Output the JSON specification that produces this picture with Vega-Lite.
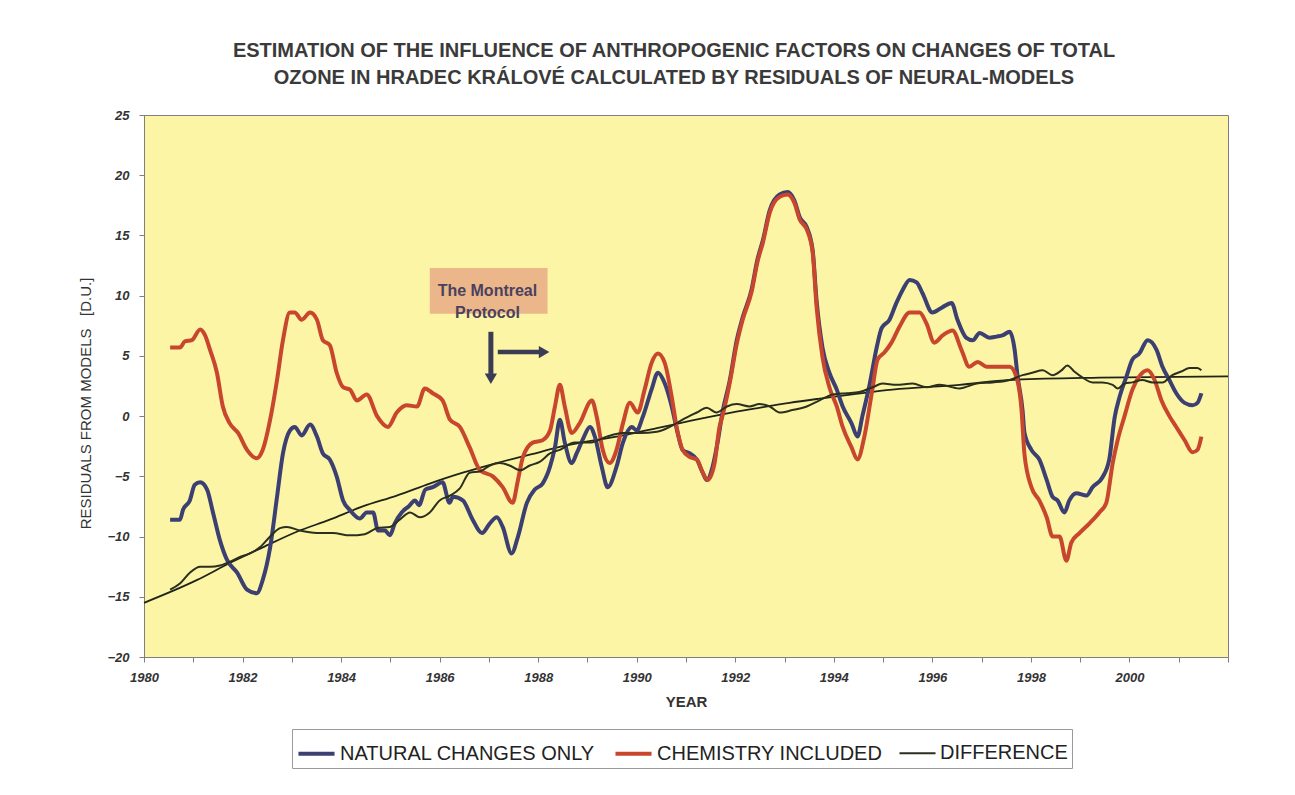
{
  "$schema": "https://vega.github.io/schema/vega-lite/v6.json",
  "width": 1084,
  "height": 542,
  "autosize": "none",
  "padding": {"left": 144, "top": 115, "right": 67, "bottom": 138},
  "background": "#ffffff",
  "config": {
    "font": "Liberation Sans",
    "view": {"fill": "#fcf5a6", "stroke": "#7f7f7f", "strokeWidth": 1}
  },
  "title": {
    "text": ["ESTIMATION OF THE INFLUENCE OF ANTHROPOGENIC FACTORS ON CHANGES OF TOTAL", "OZONE IN HRADEC KRÁLOVÉ CALCULATED BY RESIDUALS OF NEURAL-MODELS"],
    "anchor": "middle",
    "dx": -12,
    "offset": 21,
    "fontSize": 20,
    "fontWeight": "bold",
    "lineHeight": 27,
    "color": "#3a3a3a"
  },
  "datasets": {
    "residuals": [
      {"series": "NATURAL CHANGES ONLY", "year": 1980.53, "value": -8.6},
      {"series": "NATURAL CHANGES ONLY", "year": 1980.73, "value": -8.6},
      {"series": "NATURAL CHANGES ONLY", "year": 1980.79, "value": -7.8},
      {"series": "NATURAL CHANGES ONLY", "year": 1980.93, "value": -7.0},
      {"series": "NATURAL CHANGES ONLY", "year": 1981.03, "value": -5.7},
      {"series": "NATURAL CHANGES ONLY", "year": 1981.14, "value": -5.5},
      {"series": "NATURAL CHANGES ONLY", "year": 1981.28, "value": -6.1},
      {"series": "NATURAL CHANGES ONLY", "year": 1981.40, "value": -8.0},
      {"series": "NATURAL CHANGES ONLY", "year": 1981.54, "value": -10.3},
      {"series": "NATURAL CHANGES ONLY", "year": 1981.68, "value": -11.9},
      {"series": "NATURAL CHANGES ONLY", "year": 1981.89, "value": -13.0},
      {"series": "NATURAL CHANGES ONLY", "year": 1982.09, "value": -14.4},
      {"series": "NATURAL CHANGES ONLY", "year": 1982.29, "value": -14.7},
      {"series": "NATURAL CHANGES ONLY", "year": 1982.41, "value": -13.6},
      {"series": "NATURAL CHANGES ONLY", "year": 1982.56, "value": -10.9},
      {"series": "NATURAL CHANGES ONLY", "year": 1982.70, "value": -6.7},
      {"series": "NATURAL CHANGES ONLY", "year": 1982.82, "value": -3.1},
      {"series": "NATURAL CHANGES ONLY", "year": 1982.96, "value": -1.2},
      {"series": "NATURAL CHANGES ONLY", "year": 1983.06, "value": -0.9},
      {"series": "NATURAL CHANGES ONLY", "year": 1983.20, "value": -1.6},
      {"series": "NATURAL CHANGES ONLY", "year": 1983.37, "value": -0.7},
      {"series": "NATURAL CHANGES ONLY", "year": 1983.51, "value": -1.7},
      {"series": "NATURAL CHANGES ONLY", "year": 1983.63, "value": -3.1},
      {"series": "NATURAL CHANGES ONLY", "year": 1983.77, "value": -3.6},
      {"series": "NATURAL CHANGES ONLY", "year": 1983.91, "value": -5.0},
      {"series": "NATURAL CHANGES ONLY", "year": 1984.04, "value": -7.0},
      {"series": "NATURAL CHANGES ONLY", "year": 1984.18, "value": -7.8},
      {"series": "NATURAL CHANGES ONLY", "year": 1984.38, "value": -8.5},
      {"series": "NATURAL CHANGES ONLY", "year": 1984.52, "value": -8.0},
      {"series": "NATURAL CHANGES ONLY", "year": 1984.65, "value": -8.0},
      {"series": "NATURAL CHANGES ONLY", "year": 1984.75, "value": -9.5},
      {"series": "NATURAL CHANGES ONLY", "year": 1984.89, "value": -9.5},
      {"series": "NATURAL CHANGES ONLY", "year": 1984.99, "value": -9.9},
      {"series": "NATURAL CHANGES ONLY", "year": 1985.09, "value": -8.9},
      {"series": "NATURAL CHANGES ONLY", "year": 1985.23, "value": -8.0},
      {"series": "NATURAL CHANGES ONLY", "year": 1985.37, "value": -7.5},
      {"series": "NATURAL CHANGES ONLY", "year": 1985.50, "value": -7.0},
      {"series": "NATURAL CHANGES ONLY", "year": 1985.58, "value": -7.4},
      {"series": "NATURAL CHANGES ONLY", "year": 1985.71, "value": -6.1},
      {"series": "NATURAL CHANGES ONLY", "year": 1985.86, "value": -5.9},
      {"series": "NATURAL CHANGES ONLY", "year": 1986.06, "value": -5.5},
      {"series": "NATURAL CHANGES ONLY", "year": 1986.20, "value": -7.2},
      {"series": "NATURAL CHANGES ONLY", "year": 1986.27, "value": -6.7},
      {"series": "NATURAL CHANGES ONLY", "year": 1986.47, "value": -7.0},
      {"series": "NATURAL CHANGES ONLY", "year": 1986.67, "value": -8.6},
      {"series": "NATURAL CHANGES ONLY", "year": 1986.86, "value": -9.7},
      {"series": "NATURAL CHANGES ONLY", "year": 1987.02, "value": -8.9},
      {"series": "NATURAL CHANGES ONLY", "year": 1987.16, "value": -8.4},
      {"series": "NATURAL CHANGES ONLY", "year": 1987.28, "value": -9.2},
      {"series": "NATURAL CHANGES ONLY", "year": 1987.46, "value": -11.4},
      {"series": "NATURAL CHANGES ONLY", "year": 1987.59, "value": -10.0},
      {"series": "NATURAL CHANGES ONLY", "year": 1987.77, "value": -7.2},
      {"series": "NATURAL CHANGES ONLY", "year": 1987.93, "value": -6.1},
      {"series": "NATURAL CHANGES ONLY", "year": 1988.09, "value": -5.6},
      {"series": "NATURAL CHANGES ONLY", "year": 1988.24, "value": -4.2},
      {"series": "NATURAL CHANGES ONLY", "year": 1988.34, "value": -2.6},
      {"series": "NATURAL CHANGES ONLY", "year": 1988.44, "value": -0.3},
      {"series": "NATURAL CHANGES ONLY", "year": 1988.54, "value": -2.2},
      {"series": "NATURAL CHANGES ONLY", "year": 1988.68, "value": -3.9},
      {"series": "NATURAL CHANGES ONLY", "year": 1988.78, "value": -3.1},
      {"series": "NATURAL CHANGES ONLY", "year": 1988.92, "value": -1.8},
      {"series": "NATURAL CHANGES ONLY", "year": 1989.05, "value": -0.9},
      {"series": "NATURAL CHANGES ONLY", "year": 1989.15, "value": -1.7},
      {"series": "NATURAL CHANGES ONLY", "year": 1989.29, "value": -4.2},
      {"series": "NATURAL CHANGES ONLY", "year": 1989.41, "value": -5.9},
      {"series": "NATURAL CHANGES ONLY", "year": 1989.59, "value": -4.2},
      {"series": "NATURAL CHANGES ONLY", "year": 1989.72, "value": -2.2},
      {"series": "NATURAL CHANGES ONLY", "year": 1989.90, "value": -0.9},
      {"series": "NATURAL CHANGES ONLY", "year": 1990.00, "value": -1.2},
      {"series": "NATURAL CHANGES ONLY", "year": 1990.12, "value": -0.1},
      {"series": "NATURAL CHANGES ONLY", "year": 1990.30, "value": 2.2},
      {"series": "NATURAL CHANGES ONLY", "year": 1990.43, "value": 3.6},
      {"series": "NATURAL CHANGES ONLY", "year": 1990.57, "value": 2.7},
      {"series": "NATURAL CHANGES ONLY", "year": 1990.71, "value": 0.8},
      {"series": "NATURAL CHANGES ONLY", "year": 1990.83, "value": -1.4},
      {"series": "NATURAL CHANGES ONLY", "year": 1990.93, "value": -2.8},
      {"series": "NATURAL CHANGES ONLY", "year": 1991.08, "value": -3.1},
      {"series": "NATURAL CHANGES ONLY", "year": 1991.22, "value": -3.6},
      {"series": "NATURAL CHANGES ONLY", "year": 1991.34, "value": -4.7},
      {"series": "NATURAL CHANGES ONLY", "year": 1991.42, "value": -5.3},
      {"series": "NATURAL CHANGES ONLY", "year": 1991.54, "value": -4.2},
      {"series": "NATURAL CHANGES ONLY", "year": 1991.64, "value": -2.2},
      {"series": "NATURAL CHANGES ONLY", "year": 1991.74, "value": 0.3},
      {"series": "NATURAL CHANGES ONLY", "year": 1991.89, "value": 3.0},
      {"series": "NATURAL CHANGES ONLY", "year": 1992.03, "value": 6.3},
      {"series": "NATURAL CHANGES ONLY", "year": 1992.15, "value": 8.2},
      {"series": "NATURAL CHANGES ONLY", "year": 1992.33, "value": 10.5},
      {"series": "NATURAL CHANGES ONLY", "year": 1992.45, "value": 13.0},
      {"series": "NATURAL CHANGES ONLY", "year": 1992.56, "value": 14.6},
      {"series": "NATURAL CHANGES ONLY", "year": 1992.70, "value": 17.1},
      {"series": "NATURAL CHANGES ONLY", "year": 1992.90, "value": 18.4},
      {"series": "NATURAL CHANGES ONLY", "year": 1993.06, "value": 18.6},
      {"series": "NATURAL CHANGES ONLY", "year": 1993.20, "value": 17.9},
      {"series": "NATURAL CHANGES ONLY", "year": 1993.31, "value": 16.5},
      {"series": "NATURAL CHANGES ONLY", "year": 1993.45, "value": 15.7},
      {"series": "NATURAL CHANGES ONLY", "year": 1993.57, "value": 13.8},
      {"series": "NATURAL CHANGES ONLY", "year": 1993.65, "value": 9.6},
      {"series": "NATURAL CHANGES ONLY", "year": 1993.77, "value": 5.7},
      {"series": "NATURAL CHANGES ONLY", "year": 1993.91, "value": 3.6},
      {"series": "NATURAL CHANGES ONLY", "year": 1994.06, "value": 2.2},
      {"series": "NATURAL CHANGES ONLY", "year": 1994.18, "value": 0.8},
      {"series": "NATURAL CHANGES ONLY", "year": 1994.36, "value": -0.6},
      {"series": "NATURAL CHANGES ONLY", "year": 1994.48, "value": -1.7},
      {"series": "NATURAL CHANGES ONLY", "year": 1994.58, "value": 0.0},
      {"series": "NATURAL CHANGES ONLY", "year": 1994.73, "value": 2.7},
      {"series": "NATURAL CHANGES ONLY", "year": 1994.87, "value": 5.7},
      {"series": "NATURAL CHANGES ONLY", "year": 1994.97, "value": 7.3},
      {"series": "NATURAL CHANGES ONLY", "year": 1995.13, "value": 8.0},
      {"series": "NATURAL CHANGES ONLY", "year": 1995.27, "value": 9.4},
      {"series": "NATURAL CHANGES ONLY", "year": 1995.40, "value": 10.5},
      {"series": "NATURAL CHANGES ONLY", "year": 1995.54, "value": 11.3},
      {"series": "NATURAL CHANGES ONLY", "year": 1995.68, "value": 11.1},
      {"series": "NATURAL CHANGES ONLY", "year": 1995.80, "value": 10.2},
      {"series": "NATURAL CHANGES ONLY", "year": 1996.00, "value": 8.6},
      {"series": "NATURAL CHANGES ONLY", "year": 1996.19, "value": 9.0},
      {"series": "NATURAL CHANGES ONLY", "year": 1996.39, "value": 9.4},
      {"series": "NATURAL CHANGES ONLY", "year": 1996.51, "value": 8.0},
      {"series": "NATURAL CHANGES ONLY", "year": 1996.69, "value": 6.5},
      {"series": "NATURAL CHANGES ONLY", "year": 1996.82, "value": 6.3},
      {"series": "NATURAL CHANGES ONLY", "year": 1996.96, "value": 6.9},
      {"series": "NATURAL CHANGES ONLY", "year": 1997.16, "value": 6.5},
      {"series": "NATURAL CHANGES ONLY", "year": 1997.30, "value": 6.6},
      {"series": "NATURAL CHANGES ONLY", "year": 1997.42, "value": 6.7},
      {"series": "NATURAL CHANGES ONLY", "year": 1997.57, "value": 7.0},
      {"series": "NATURAL CHANGES ONLY", "year": 1997.67, "value": 5.5},
      {"series": "NATURAL CHANGES ONLY", "year": 1997.73, "value": 3.3},
      {"series": "NATURAL CHANGES ONLY", "year": 1997.83, "value": 0.5},
      {"series": "NATURAL CHANGES ONLY", "year": 1997.87, "value": -1.4},
      {"series": "NATURAL CHANGES ONLY", "year": 1998.01, "value": -2.8},
      {"series": "NATURAL CHANGES ONLY", "year": 1998.17, "value": -3.6},
      {"series": "NATURAL CHANGES ONLY", "year": 1998.32, "value": -5.3},
      {"series": "NATURAL CHANGES ONLY", "year": 1998.44, "value": -6.7},
      {"series": "NATURAL CHANGES ONLY", "year": 1998.54, "value": -7.0},
      {"series": "NATURAL CHANGES ONLY", "year": 1998.68, "value": -8.0},
      {"series": "NATURAL CHANGES ONLY", "year": 1998.78, "value": -7.0},
      {"series": "NATURAL CHANGES ONLY", "year": 1998.92, "value": -6.4},
      {"series": "NATURAL CHANGES ONLY", "year": 1999.13, "value": -6.6},
      {"series": "NATURAL CHANGES ONLY", "year": 1999.25, "value": -5.9},
      {"series": "NATURAL CHANGES ONLY", "year": 1999.45, "value": -5.1},
      {"series": "NATURAL CHANGES ONLY", "year": 1999.59, "value": -3.6},
      {"series": "NATURAL CHANGES ONLY", "year": 1999.70, "value": -0.1},
      {"series": "NATURAL CHANGES ONLY", "year": 1999.80, "value": 1.6},
      {"series": "NATURAL CHANGES ONLY", "year": 1999.94, "value": 3.3},
      {"series": "NATURAL CHANGES ONLY", "year": 2000.06, "value": 4.7},
      {"series": "NATURAL CHANGES ONLY", "year": 2000.20, "value": 5.2},
      {"series": "NATURAL CHANGES ONLY", "year": 2000.37, "value": 6.3},
      {"series": "NATURAL CHANGES ONLY", "year": 2000.55, "value": 5.5},
      {"series": "NATURAL CHANGES ONLY", "year": 2000.67, "value": 4.1},
      {"series": "NATURAL CHANGES ONLY", "year": 2000.81, "value": 3.0},
      {"series": "NATURAL CHANGES ONLY", "year": 2000.95, "value": 1.9},
      {"series": "NATURAL CHANGES ONLY", "year": 2001.12, "value": 1.1},
      {"series": "NATURAL CHANGES ONLY", "year": 2001.28, "value": 0.9},
      {"series": "NATURAL CHANGES ONLY", "year": 2001.38, "value": 1.1},
      {"series": "NATURAL CHANGES ONLY", "year": 2001.46, "value": 1.9},

      {"series": "CHEMISTRY INCLUDED", "year": 1980.53, "value": 5.7},
      {"series": "CHEMISTRY INCLUDED", "year": 1980.73, "value": 5.7},
      {"series": "CHEMISTRY INCLUDED", "year": 1980.83, "value": 6.2},
      {"series": "CHEMISTRY INCLUDED", "year": 1980.97, "value": 6.3},
      {"series": "CHEMISTRY INCLUDED", "year": 1981.14, "value": 7.2},
      {"series": "CHEMISTRY INCLUDED", "year": 1981.24, "value": 6.7},
      {"series": "CHEMISTRY INCLUDED", "year": 1981.34, "value": 5.5},
      {"series": "CHEMISTRY INCLUDED", "year": 1981.48, "value": 3.6},
      {"series": "CHEMISTRY INCLUDED", "year": 1981.60, "value": 0.8},
      {"series": "CHEMISTRY INCLUDED", "year": 1981.74, "value": -0.6},
      {"series": "CHEMISTRY INCLUDED", "year": 1981.91, "value": -1.4},
      {"series": "CHEMISTRY INCLUDED", "year": 1982.09, "value": -2.8},
      {"series": "CHEMISTRY INCLUDED", "year": 1982.29, "value": -3.5},
      {"series": "CHEMISTRY INCLUDED", "year": 1982.41, "value": -2.8},
      {"series": "CHEMISTRY INCLUDED", "year": 1982.56, "value": -0.3},
      {"series": "CHEMISTRY INCLUDED", "year": 1982.70, "value": 3.0},
      {"series": "CHEMISTRY INCLUDED", "year": 1982.82, "value": 6.3},
      {"series": "CHEMISTRY INCLUDED", "year": 1982.96, "value": 8.6},
      {"series": "CHEMISTRY INCLUDED", "year": 1983.06, "value": 8.6},
      {"series": "CHEMISTRY INCLUDED", "year": 1983.20, "value": 8.0},
      {"series": "CHEMISTRY INCLUDED", "year": 1983.37, "value": 8.6},
      {"series": "CHEMISTRY INCLUDED", "year": 1983.51, "value": 8.0},
      {"series": "CHEMISTRY INCLUDED", "year": 1983.63, "value": 6.3},
      {"series": "CHEMISTRY INCLUDED", "year": 1983.77, "value": 5.9},
      {"series": "CHEMISTRY INCLUDED", "year": 1983.91, "value": 3.6},
      {"series": "CHEMISTRY INCLUDED", "year": 1984.04, "value": 2.4},
      {"series": "CHEMISTRY INCLUDED", "year": 1984.18, "value": 2.2},
      {"series": "CHEMISTRY INCLUDED", "year": 1984.32, "value": 1.3},
      {"series": "CHEMISTRY INCLUDED", "year": 1984.52, "value": 1.8},
      {"series": "CHEMISTRY INCLUDED", "year": 1984.73, "value": 0.0},
      {"series": "CHEMISTRY INCLUDED", "year": 1984.95, "value": -0.9},
      {"series": "CHEMISTRY INCLUDED", "year": 1985.13, "value": 0.3},
      {"series": "CHEMISTRY INCLUDED", "year": 1985.33, "value": 0.9},
      {"series": "CHEMISTRY INCLUDED", "year": 1985.54, "value": 0.8},
      {"series": "CHEMISTRY INCLUDED", "year": 1985.70, "value": 2.3},
      {"series": "CHEMISTRY INCLUDED", "year": 1985.86, "value": 1.9},
      {"series": "CHEMISTRY INCLUDED", "year": 1986.06, "value": 1.3},
      {"series": "CHEMISTRY INCLUDED", "year": 1986.21, "value": -0.3},
      {"series": "CHEMISTRY INCLUDED", "year": 1986.41, "value": -0.9},
      {"series": "CHEMISTRY INCLUDED", "year": 1986.61, "value": -2.6},
      {"series": "CHEMISTRY INCLUDED", "year": 1986.82, "value": -4.5},
      {"series": "CHEMISTRY INCLUDED", "year": 1987.08, "value": -5.0},
      {"series": "CHEMISTRY INCLUDED", "year": 1987.28, "value": -5.9},
      {"series": "CHEMISTRY INCLUDED", "year": 1987.48, "value": -7.2},
      {"series": "CHEMISTRY INCLUDED", "year": 1987.59, "value": -5.3},
      {"series": "CHEMISTRY INCLUDED", "year": 1987.69, "value": -3.4},
      {"series": "CHEMISTRY INCLUDED", "year": 1987.89, "value": -2.2},
      {"series": "CHEMISTRY INCLUDED", "year": 1988.09, "value": -2.0},
      {"series": "CHEMISTRY INCLUDED", "year": 1988.24, "value": -1.2},
      {"series": "CHEMISTRY INCLUDED", "year": 1988.34, "value": 0.8},
      {"series": "CHEMISTRY INCLUDED", "year": 1988.44, "value": 2.6},
      {"series": "CHEMISTRY INCLUDED", "year": 1988.54, "value": 0.8},
      {"series": "CHEMISTRY INCLUDED", "year": 1988.68, "value": -1.4},
      {"series": "CHEMISTRY INCLUDED", "year": 1988.84, "value": -0.6},
      {"series": "CHEMISTRY INCLUDED", "year": 1989.09, "value": 1.3},
      {"series": "CHEMISTRY INCLUDED", "year": 1989.19, "value": -0.1},
      {"series": "CHEMISTRY INCLUDED", "year": 1989.31, "value": -2.8},
      {"series": "CHEMISTRY INCLUDED", "year": 1989.45, "value": -3.9},
      {"series": "CHEMISTRY INCLUDED", "year": 1989.59, "value": -2.8},
      {"series": "CHEMISTRY INCLUDED", "year": 1989.72, "value": -0.6},
      {"series": "CHEMISTRY INCLUDED", "year": 1989.86, "value": 1.1},
      {"series": "CHEMISTRY INCLUDED", "year": 1990.02, "value": 0.3},
      {"series": "CHEMISTRY INCLUDED", "year": 1990.16, "value": 2.2},
      {"series": "CHEMISTRY INCLUDED", "year": 1990.30, "value": 4.4},
      {"series": "CHEMISTRY INCLUDED", "year": 1990.43, "value": 5.2},
      {"series": "CHEMISTRY INCLUDED", "year": 1990.57, "value": 4.4},
      {"series": "CHEMISTRY INCLUDED", "year": 1990.71, "value": 1.6},
      {"series": "CHEMISTRY INCLUDED", "year": 1990.81, "value": -0.9},
      {"series": "CHEMISTRY INCLUDED", "year": 1990.93, "value": -2.8},
      {"series": "CHEMISTRY INCLUDED", "year": 1991.08, "value": -3.4},
      {"series": "CHEMISTRY INCLUDED", "year": 1991.22, "value": -3.6},
      {"series": "CHEMISTRY INCLUDED", "year": 1991.34, "value": -4.7},
      {"series": "CHEMISTRY INCLUDED", "year": 1991.44, "value": -5.3},
      {"series": "CHEMISTRY INCLUDED", "year": 1991.58, "value": -3.9},
      {"series": "CHEMISTRY INCLUDED", "year": 1991.68, "value": -0.9},
      {"series": "CHEMISTRY INCLUDED", "year": 1991.74, "value": 0.0},
      {"series": "CHEMISTRY INCLUDED", "year": 1991.89, "value": 2.8},
      {"series": "CHEMISTRY INCLUDED", "year": 1992.03, "value": 6.0},
      {"series": "CHEMISTRY INCLUDED", "year": 1992.15, "value": 8.0},
      {"series": "CHEMISTRY INCLUDED", "year": 1992.33, "value": 10.3},
      {"series": "CHEMISTRY INCLUDED", "year": 1992.45, "value": 12.8},
      {"series": "CHEMISTRY INCLUDED", "year": 1992.56, "value": 14.4},
      {"series": "CHEMISTRY INCLUDED", "year": 1992.70, "value": 16.9},
      {"series": "CHEMISTRY INCLUDED", "year": 1992.90, "value": 18.2},
      {"series": "CHEMISTRY INCLUDED", "year": 1993.06, "value": 18.4},
      {"series": "CHEMISTRY INCLUDED", "year": 1993.20, "value": 17.7},
      {"series": "CHEMISTRY INCLUDED", "year": 1993.31, "value": 16.3},
      {"series": "CHEMISTRY INCLUDED", "year": 1993.45, "value": 15.5},
      {"series": "CHEMISTRY INCLUDED", "year": 1993.57, "value": 13.6},
      {"series": "CHEMISTRY INCLUDED", "year": 1993.65, "value": 9.1},
      {"series": "CHEMISTRY INCLUDED", "year": 1993.77, "value": 4.9},
      {"series": "CHEMISTRY INCLUDED", "year": 1993.91, "value": 2.4},
      {"series": "CHEMISTRY INCLUDED", "year": 1994.06, "value": 0.8},
      {"series": "CHEMISTRY INCLUDED", "year": 1994.18, "value": -0.9},
      {"series": "CHEMISTRY INCLUDED", "year": 1994.36, "value": -2.6},
      {"series": "CHEMISTRY INCLUDED", "year": 1994.48, "value": -3.6},
      {"series": "CHEMISTRY INCLUDED", "year": 1994.62, "value": -1.7},
      {"series": "CHEMISTRY INCLUDED", "year": 1994.77, "value": 1.9},
      {"series": "CHEMISTRY INCLUDED", "year": 1994.89, "value": 4.7},
      {"series": "CHEMISTRY INCLUDED", "year": 1995.03, "value": 5.3},
      {"series": "CHEMISTRY INCLUDED", "year": 1995.17, "value": 6.1},
      {"series": "CHEMISTRY INCLUDED", "year": 1995.33, "value": 7.4},
      {"series": "CHEMISTRY INCLUDED", "year": 1995.54, "value": 8.6},
      {"series": "CHEMISTRY INCLUDED", "year": 1995.74, "value": 8.6},
      {"series": "CHEMISTRY INCLUDED", "year": 1995.88, "value": 7.7},
      {"series": "CHEMISTRY INCLUDED", "year": 1996.04, "value": 6.1},
      {"series": "CHEMISTRY INCLUDED", "year": 1996.21, "value": 6.7},
      {"series": "CHEMISTRY INCLUDED", "year": 1996.41, "value": 7.1},
      {"series": "CHEMISTRY INCLUDED", "year": 1996.59, "value": 5.5},
      {"series": "CHEMISTRY INCLUDED", "year": 1996.75, "value": 4.1},
      {"series": "CHEMISTRY INCLUDED", "year": 1996.92, "value": 4.5},
      {"series": "CHEMISTRY INCLUDED", "year": 1997.10, "value": 4.1},
      {"series": "CHEMISTRY INCLUDED", "year": 1997.30, "value": 4.1},
      {"series": "CHEMISTRY INCLUDED", "year": 1997.57, "value": 4.1},
      {"series": "CHEMISTRY INCLUDED", "year": 1997.71, "value": 3.2},
      {"series": "CHEMISTRY INCLUDED", "year": 1997.81, "value": 0.5},
      {"series": "CHEMISTRY INCLUDED", "year": 1997.87, "value": -3.2},
      {"series": "CHEMISTRY INCLUDED", "year": 1998.01, "value": -5.9},
      {"series": "CHEMISTRY INCLUDED", "year": 1998.17, "value": -7.0},
      {"series": "CHEMISTRY INCLUDED", "year": 1998.32, "value": -8.4},
      {"series": "CHEMISTRY INCLUDED", "year": 1998.44, "value": -10.0},
      {"series": "CHEMISTRY INCLUDED", "year": 1998.58, "value": -10.0},
      {"series": "CHEMISTRY INCLUDED", "year": 1998.72, "value": -12.0},
      {"series": "CHEMISTRY INCLUDED", "year": 1998.82, "value": -10.5},
      {"series": "CHEMISTRY INCLUDED", "year": 1998.99, "value": -9.7},
      {"series": "CHEMISTRY INCLUDED", "year": 1999.19, "value": -8.9},
      {"series": "CHEMISTRY INCLUDED", "year": 1999.39, "value": -8.0},
      {"series": "CHEMISTRY INCLUDED", "year": 1999.53, "value": -7.2},
      {"series": "CHEMISTRY INCLUDED", "year": 1999.66, "value": -3.9},
      {"series": "CHEMISTRY INCLUDED", "year": 1999.76, "value": -2.0},
      {"series": "CHEMISTRY INCLUDED", "year": 1999.90, "value": 0.0},
      {"series": "CHEMISTRY INCLUDED", "year": 2000.06, "value": 2.2},
      {"series": "CHEMISTRY INCLUDED", "year": 2000.20, "value": 3.3},
      {"series": "CHEMISTRY INCLUDED", "year": 2000.37, "value": 3.8},
      {"series": "CHEMISTRY INCLUDED", "year": 2000.51, "value": 3.0},
      {"series": "CHEMISTRY INCLUDED", "year": 2000.65, "value": 1.3},
      {"series": "CHEMISTRY INCLUDED", "year": 2000.81, "value": 0.0},
      {"series": "CHEMISTRY INCLUDED", "year": 2000.95, "value": -0.9},
      {"series": "CHEMISTRY INCLUDED", "year": 2001.12, "value": -2.0},
      {"series": "CHEMISTRY INCLUDED", "year": 2001.28, "value": -3.0},
      {"series": "CHEMISTRY INCLUDED", "year": 2001.38, "value": -2.8},
      {"series": "CHEMISTRY INCLUDED", "year": 2001.46, "value": -1.7},

      {"series": "DIFFERENCE", "year": 1980.53, "value": -14.4},
      {"series": "DIFFERENCE", "year": 1980.73, "value": -13.9},
      {"series": "DIFFERENCE", "year": 1980.93, "value": -13.0},
      {"series": "DIFFERENCE", "year": 1981.14, "value": -12.5},
      {"series": "DIFFERENCE", "year": 1981.34, "value": -12.5},
      {"series": "DIFFERENCE", "year": 1981.54, "value": -12.4},
      {"series": "DIFFERENCE", "year": 1981.74, "value": -12.1},
      {"series": "DIFFERENCE", "year": 1981.95, "value": -11.7},
      {"series": "DIFFERENCE", "year": 1982.15, "value": -11.4},
      {"series": "DIFFERENCE", "year": 1982.35, "value": -10.9},
      {"series": "DIFFERENCE", "year": 1982.56, "value": -10.0},
      {"series": "DIFFERENCE", "year": 1982.76, "value": -9.3},
      {"series": "DIFFERENCE", "year": 1982.90, "value": -9.2},
      {"series": "DIFFERENCE", "year": 1983.16, "value": -9.5},
      {"series": "DIFFERENCE", "year": 1983.51, "value": -9.7},
      {"series": "DIFFERENCE", "year": 1983.83, "value": -9.7},
      {"series": "DIFFERENCE", "year": 1984.18, "value": -9.9},
      {"series": "DIFFERENCE", "year": 1984.48, "value": -9.8},
      {"series": "DIFFERENCE", "year": 1984.73, "value": -9.3},
      {"series": "DIFFERENCE", "year": 1984.99, "value": -9.2},
      {"series": "DIFFERENCE", "year": 1985.19, "value": -8.6},
      {"series": "DIFFERENCE", "year": 1985.40, "value": -8.0},
      {"series": "DIFFERENCE", "year": 1985.60, "value": -8.4},
      {"series": "DIFFERENCE", "year": 1985.80, "value": -8.0},
      {"series": "DIFFERENCE", "year": 1986.00, "value": -7.0},
      {"series": "DIFFERENCE", "year": 1986.21, "value": -6.6},
      {"series": "DIFFERENCE", "year": 1986.41, "value": -6.0},
      {"series": "DIFFERENCE", "year": 1986.61, "value": -4.7},
      {"series": "DIFFERENCE", "year": 1986.82, "value": -4.6},
      {"series": "DIFFERENCE", "year": 1987.02, "value": -4.1},
      {"series": "DIFFERENCE", "year": 1987.22, "value": -3.9},
      {"series": "DIFFERENCE", "year": 1987.42, "value": -4.1},
      {"series": "DIFFERENCE", "year": 1987.63, "value": -4.5},
      {"series": "DIFFERENCE", "year": 1987.83, "value": -4.1},
      {"series": "DIFFERENCE", "year": 1988.03, "value": -3.8},
      {"series": "DIFFERENCE", "year": 1988.24, "value": -3.1},
      {"series": "DIFFERENCE", "year": 1988.44, "value": -2.8},
      {"series": "DIFFERENCE", "year": 1988.74, "value": -2.2},
      {"series": "DIFFERENCE", "year": 1989.05, "value": -2.2},
      {"series": "DIFFERENCE", "year": 1989.39, "value": -1.7},
      {"series": "DIFFERENCE", "year": 1989.72, "value": -1.4},
      {"series": "DIFFERENCE", "year": 1990.06, "value": -1.4},
      {"series": "DIFFERENCE", "year": 1990.41, "value": -1.3},
      {"series": "DIFFERENCE", "year": 1990.67, "value": -0.9},
      {"series": "DIFFERENCE", "year": 1990.93, "value": -0.3},
      {"series": "DIFFERENCE", "year": 1991.22, "value": 0.3},
      {"series": "DIFFERENCE", "year": 1991.42, "value": 0.7},
      {"series": "DIFFERENCE", "year": 1991.62, "value": 0.3},
      {"series": "DIFFERENCE", "year": 1991.83, "value": 0.8},
      {"series": "DIFFERENCE", "year": 1992.03, "value": 1.0},
      {"series": "DIFFERENCE", "year": 1992.29, "value": 0.8},
      {"series": "DIFFERENCE", "year": 1992.49, "value": 1.0},
      {"series": "DIFFERENCE", "year": 1992.70, "value": 0.8},
      {"series": "DIFFERENCE", "year": 1992.90, "value": 0.3},
      {"series": "DIFFERENCE", "year": 1993.16, "value": 0.5},
      {"series": "DIFFERENCE", "year": 1993.45, "value": 0.8},
      {"series": "DIFFERENCE", "year": 1993.71, "value": 1.3},
      {"series": "DIFFERENCE", "year": 1993.98, "value": 1.8},
      {"series": "DIFFERENCE", "year": 1994.26, "value": 1.9},
      {"series": "DIFFERENCE", "year": 1994.52, "value": 2.0},
      {"series": "DIFFERENCE", "year": 1994.79, "value": 2.4},
      {"series": "DIFFERENCE", "year": 1994.99, "value": 2.7},
      {"series": "DIFFERENCE", "year": 1995.27, "value": 2.6},
      {"series": "DIFFERENCE", "year": 1995.60, "value": 2.7},
      {"series": "DIFFERENCE", "year": 1995.88, "value": 2.4},
      {"series": "DIFFERENCE", "year": 1996.15, "value": 2.6},
      {"series": "DIFFERENCE", "year": 1996.55, "value": 2.3},
      {"series": "DIFFERENCE", "year": 1996.90, "value": 2.7},
      {"series": "DIFFERENCE", "year": 1997.22, "value": 2.8},
      {"series": "DIFFERENCE", "year": 1997.57, "value": 3.0},
      {"series": "DIFFERENCE", "year": 1997.83, "value": 3.4},
      {"series": "DIFFERENCE", "year": 1998.03, "value": 3.6},
      {"series": "DIFFERENCE", "year": 1998.24, "value": 3.8},
      {"series": "DIFFERENCE", "year": 1998.44, "value": 3.4},
      {"series": "DIFFERENCE", "year": 1998.62, "value": 3.8},
      {"series": "DIFFERENCE", "year": 1998.74, "value": 4.2},
      {"series": "DIFFERENCE", "year": 1998.88, "value": 3.7},
      {"series": "DIFFERENCE", "year": 1999.05, "value": 3.2},
      {"series": "DIFFERENCE", "year": 1999.25, "value": 2.8},
      {"series": "DIFFERENCE", "year": 1999.45, "value": 2.8},
      {"series": "DIFFERENCE", "year": 1999.66, "value": 2.6},
      {"series": "DIFFERENCE", "year": 1999.76, "value": 2.3},
      {"series": "DIFFERENCE", "year": 1999.90, "value": 2.7},
      {"series": "DIFFERENCE", "year": 2000.06, "value": 2.8},
      {"series": "DIFFERENCE", "year": 2000.26, "value": 3.0},
      {"series": "DIFFERENCE", "year": 2000.47, "value": 2.8},
      {"series": "DIFFERENCE", "year": 2000.67, "value": 2.8},
      {"series": "DIFFERENCE", "year": 2000.87, "value": 3.4},
      {"series": "DIFFERENCE", "year": 2001.05, "value": 3.7},
      {"series": "DIFFERENCE", "year": 2001.22, "value": 4.0},
      {"series": "DIFFERENCE", "year": 2001.38, "value": 4.0},
      {"series": "DIFFERENCE", "year": 2001.46, "value": 3.8}
    ],
    "trend": [
      {"year": 1980.0, "value": -15.5},
      {"year": 1981.08, "value": -13.6},
      {"year": 1981.74, "value": -12.2},
      {"year": 1982.41, "value": -10.9},
      {"year": 1983.10, "value": -9.6},
      {"year": 1983.77, "value": -8.6},
      {"year": 1984.44, "value": -7.5},
      {"year": 1985.13, "value": -6.6},
      {"year": 1985.80, "value": -5.6},
      {"year": 1986.47, "value": -4.7},
      {"year": 1987.16, "value": -3.9},
      {"year": 1987.83, "value": -3.2},
      {"year": 1988.50, "value": -2.5},
      {"year": 1989.72, "value": -1.6},
      {"year": 1990.41, "value": -1.0},
      {"year": 1991.08, "value": -0.4},
      {"year": 1991.74, "value": 0.15},
      {"year": 1992.43, "value": 0.65},
      {"year": 1993.10, "value": 1.1},
      {"year": 1993.71, "value": 1.45},
      {"year": 1995.19, "value": 2.2},
      {"year": 1996.55, "value": 2.6},
      {"year": 1997.57, "value": 3.0},
      {"year": 1999.39, "value": 3.2},
      {"year": 2002.0, "value": 3.3}
    ],
    "note": [
      {"label": "The Montreal Protocol"}
    ]
  },
  "layer": [
    {
      "data": {"name": "trend"},
      "mark": {"type": "line", "interpolate": "monotone", "color": "#1f2418", "strokeWidth": 1.8},
      "encoding": {
        "x": {
          "field": "year",
          "type": "quantitative",
          "scale": {"domain": [1980, 2002], "nice": false, "zero": false},
          "axis": {
            "title": "YEAR",
            "values": [1980, 1981, 1982, 1983, 1984, 1985, 1986, 1987, 1988, 1989, 1990, 1991, 1992, 1993, 1994, 1995, 1996, 1997, 1998, 1999, 2000, 2001, 2002],
            "format": "d",
            "labelExpr": "datum.value % 2 === 0 && datum.value < 2002 ? datum.label : ''",
            "labelOverlap": false,
            "labelFlush": false,
            "grid": false,
            "domainColor": "#7f7f7f",
            "tickColor": "#7f7f7f",
            "tickSize": 5,
            "labelPadding": 9,
            "labelFontSize": 13,
            "labelFontWeight": "bold",
            "labelFontStyle": "italic",
            "labelColor": "#333333",
            "titleFontSize": 15,
            "titleFontWeight": "bold",
            "titleColor": "#333333",
            "titlePadding": 10
          }
        },
        "y": {
          "field": "value",
          "type": "quantitative",
          "scale": {"domain": [-20, 25], "nice": false, "zero": false},
          "axis": {
            "title": "RESIDUALS FROM MODELS\u00a0\u00a0\u00a0[D.U.]",
            "values": [-20, -15, -10, -5, 0, 5, 10, 15, 20, 25],
            "grid": false,
            "domainColor": "#7f7f7f",
            "tickColor": "#7f7f7f",
            "tickSize": 5,
            "labelPadding": 10,
            "labelFontSize": 13,
            "labelFontWeight": "bold",
            "labelFontStyle": "italic",
            "labelColor": "#333333",
            "titleFontSize": 15,
            "titleFontWeight": "normal",
            "titleColor": "#333333",
            "titlePadding": 13,
            "titleY": 288
          }
        }
      }
    },
    {
      "data": {"name": "residuals"},
      "mark": {"type": "line", "interpolate": "monotone"},
      "encoding": {
        "x": {"field": "year", "type": "quantitative"},
        "y": {"field": "value", "type": "quantitative"},
        "color": {
          "field": "series",
          "type": "nominal",
          "sort": null,
          "scale": {"domain": ["NATURAL CHANGES ONLY", "CHEMISTRY INCLUDED", "DIFFERENCE"], "range": ["#3c3f72", "#c8462d", "#2a2f1e"]},
          "legend": {
            "orient": "none",
            "legendX": 148,
            "legendY": 614,
            "direction": "horizontal",
            "title": null,
            "symbolType": "stroke",
            "symbolSize": 1300,
            "labelFontSize": 20,
            "labelColor": "#222222",
            "labelLimit": 400,
            "labelOffset": 3,
            "columnPadding": 12,
            "strokeColor": "#9a9a9a",
            "fillColor": "#ffffff",
            "padding": 4
          }
        },
        "strokeWidth": {
          "field": "series",
          "type": "nominal",
          "scale": {"type": "ordinal", "domain": ["NATURAL CHANGES ONLY", "CHEMISTRY INCLUDED", "DIFFERENCE"], "range": [4, 4, 2]},
          "legend": {
            "orient": "none",
            "legendX": 148,
            "legendY": 614,
            "direction": "horizontal",
            "title": null,
            "symbolType": "stroke",
            "symbolSize": 1300,
            "labelFontSize": 20,
            "labelColor": "#222222",
            "labelLimit": 400,
            "labelOffset": 3,
            "columnPadding": 12,
            "strokeColor": "#9a9a9a",
            "fillColor": "#ffffff",
            "padding": 4
          }
        }
      }
    },
    {
      "data": {"name": "note"},
      "mark": {"type": "rect", "fill": "#eab68a"},
      "encoding": {
        "x": {"datum": 1985.8, "type": "quantitative"},
        "x2": {"datum": 1988.19},
        "y": {"datum": 12.3, "type": "quantitative"},
        "y2": {"datum": 8.5}
      }
    },
    {
      "data": {"name": "note"},
      "mark": {"type": "text", "fontSize": 16, "fontWeight": "bold", "color": "#4a4160", "lineHeight": 22, "baseline": "middle", "align": "center"},
      "encoding": {
        "x": {"datum": 1986.97, "type": "quantitative"},
        "y": {"datum": 10.4, "type": "quantitative"},
        "text": {"value": ["The Montreal", "Protocol"]}
      }
    },
    {
      "data": {"name": "note"},
      "mark": {"type": "rule", "color": "#3a3c56", "strokeWidth": 5},
      "encoding": {
        "x": {"datum": 1987.04, "type": "quantitative"},
        "y": {"datum": 7.0, "type": "quantitative"},
        "y2": {"datum": 3.5}
      }
    },
    {
      "data": {"name": "note"},
      "mark": {"type": "point", "shape": "triangle-down", "filled": true, "size": 150, "color": "#3a3c56", "opacity": 1, "strokeWidth": 0},
      "encoding": {
        "x": {"datum": 1987.04, "type": "quantitative"},
        "y": {"datum": 3.1, "type": "quantitative"}
      }
    },
    {
      "data": {"name": "note"},
      "mark": {"type": "rule", "color": "#3a3c56", "strokeWidth": 4.5},
      "encoding": {
        "x": {"datum": 1987.18, "type": "quantitative"},
        "x2": {"datum": 1988.02},
        "y": {"datum": 5.32, "type": "quantitative"}
      }
    },
    {
      "data": {"name": "note"},
      "mark": {"type": "point", "shape": "triangle-right", "filled": true, "size": 150, "color": "#3a3c56", "opacity": 1, "strokeWidth": 0},
      "encoding": {
        "x": {"datum": 1988.12, "type": "quantitative"},
        "y": {"datum": 5.32, "type": "quantitative"}
      }
    }
  ]
}
